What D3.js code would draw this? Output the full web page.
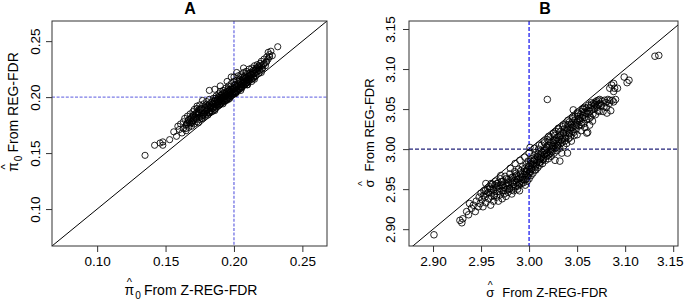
<!DOCTYPE html>
<html><head><meta charset="utf-8">
<script src="https://cdn.jsdelivr.net/npm/d3@7"></script>
<style>body{margin:0;background:#fff} text{font-family:"Liberation Sans",Arial,sans-serif}</style>
</head><body><svg id="c" width="685" height="301"></svg>
<script>
// Panel A: pi0 from Z-REG-FDR (x) vs from REG-FDR (y)
const panelA_points = [
[0.135,0.148],[0.142,0.157],[0.146,0.159],[0.148,0.160],[0.148,0.157],[0.153,0.162],[0.156,0.169],[0.158,0.165],[0.159,0.174],[0.165,0.172],[0.169,0.177],[0.174,0.177],[0.177,0.183],
[0.160,0.171],[0.161,0.176],[0.162,0.168],[0.163,0.178],[0.163,0.172],[0.164,0.181],[0.165,0.175],[0.165,0.170],[0.166,0.183],[0.166,0.177],[0.167,0.173],[0.167,0.180],[0.168,0.185],[0.168,0.176],[0.169,0.182],[0.169,0.174],
[0.170,0.187],[0.170,0.179],[0.170,0.183],[0.171,0.176],[0.171,0.189],[0.172,0.181],[0.172,0.185],[0.173,0.178],[0.173,0.190],[0.174,0.184],[0.174,0.187],[0.175,0.180],[0.175,0.193],[0.175,0.186],[0.176,0.183],[0.176,0.190],[0.177,0.188],[0.177,0.181],[0.178,0.194],[0.178,0.185],[0.179,0.191],[0.179,0.183],
[0.180,0.188],[0.180,0.196],[0.180,0.185],[0.181,0.192],[0.181,0.189],[0.182,0.186],[0.182,0.198],[0.182,0.194],[0.183,0.190],[0.183,0.188],[0.184,0.196],[0.184,0.192],[0.184,0.187],[0.185,0.199],[0.185,0.194],[0.185,0.190],[0.186,0.197],[0.186,0.192],[0.186,0.189],[0.187,0.201],[0.187,0.195],[0.187,0.191],[0.188,0.198],[0.188,0.194],[0.188,0.192],[0.189,0.203],[0.189,0.196],[0.189,0.193],
[0.190,0.200],[0.190,0.197],[0.190,0.194],[0.190,0.205],[0.191,0.199],[0.191,0.195],[0.191,0.202],[0.192,0.197],[0.192,0.206],[0.192,0.200],[0.193,0.203],[0.193,0.198],[0.193,0.196],[0.194,0.208],[0.194,0.201],[0.194,0.199],[0.195,0.205],[0.195,0.202],[0.195,0.198],[0.196,0.210],[0.196,0.204],[0.196,0.200],[0.197,0.207],[0.197,0.203],[0.197,0.199],[0.198,0.212],[0.198,0.205],[0.198,0.201],[0.199,0.209],[0.199,0.204],[0.199,0.202],
[0.200,0.214],[0.200,0.207],[0.200,0.203],[0.200,0.218],[0.201,0.211],[0.201,0.205],[0.201,0.203],[0.202,0.215],[0.202,0.209],[0.202,0.206],[0.203,0.219],[0.203,0.212],[0.203,0.207],[0.204,0.216],[0.204,0.210],[0.204,0.207],[0.205,0.220],[0.205,0.213],[0.205,0.209],[0.206,0.218],[0.206,0.212],[0.206,0.209],[0.207,0.222],[0.207,0.215],[0.207,0.211],[0.208,0.219],[0.208,0.214],[0.208,0.211],[0.209,0.223],[0.209,0.217],[0.209,0.213],
[0.210,0.221],[0.210,0.216],[0.210,0.213],[0.211,0.225],[0.211,0.219],[0.211,0.215],[0.212,0.222],[0.212,0.217],[0.213,0.226],[0.213,0.220],[0.213,0.216],[0.214,0.224],[0.214,0.218],[0.215,0.228],[0.215,0.221],[0.216,0.225],[0.216,0.219],[0.217,0.229],[0.217,0.223],[0.218,0.226],[0.218,0.221],[0.219,0.230],[0.219,0.224],
[0.220,0.228],[0.220,0.232],[0.221,0.226],[0.222,0.234],[0.222,0.230],[0.223,0.228],[0.224,0.236],[0.224,0.232],[0.225,0.240],[0.225,0.234],[0.226,0.238],[0.226,0.236],[0.227,0.241],[0.228,0.237],[0.232,0.245],
[0.173,0.192],[0.177,0.197],[0.182,0.206],[0.186,0.207],[0.190,0.210],[0.195,0.214],[0.198,0.218],[0.202,0.222],[0.207,0.226],
[0.205,0.206],[0.210,0.211],[0.213,0.214],[0.215,0.216],[0.220,0.222],[0.196,0.198],[0.192,0.194],[0.186,0.188],[0.181,0.184],
[0.1655,0.176],[0.1665,0.179],[0.1675,0.177],[0.1685,0.181],[0.1695,0.178],[0.1705,0.184],[0.1715,0.182],[0.1725,0.180],[0.1735,0.186],[0.1745,0.182],[0.1755,0.189],[0.1765,0.186],[0.1775,0.184],[0.1785,0.190],[0.1795,0.187],[0.1805,0.192],[0.1815,0.186],[0.1825,0.191],[0.1835,0.195],[0.1845,0.190],[0.1855,0.196],[0.1865,0.194],[0.1875,0.193],[0.1885,0.200],[0.1895,0.198],[0.1905,0.196],[0.1915,0.203],[0.1925,0.199],[0.1935,0.201],[0.1945,0.204],[0.1955,0.200],[0.1965,0.206],[0.1975,0.205],[0.1985,0.203],[0.1995,0.208],[0.2005,0.205],[0.2015,0.209],[0.2025,0.211],[0.2035,0.208],[0.2045,0.214],[0.2055,0.211],[0.2065,0.216],[0.2075,0.213],[0.2085,0.217],[0.2095,0.215],[0.2105,0.219],[0.2115,0.217],[0.2125,0.220],[0.2135,0.222],[0.2145,0.221],[0.2155,0.224],[0.2165,0.222],[0.2175,0.227],[0.2185,0.224],
[0.1705,0.180],[0.1725,0.186],[0.1745,0.189],[0.1765,0.181],[0.1785,0.186],[0.1805,0.189],[0.1825,0.187],[0.1845,0.194],[0.1865,0.199],[0.1885,0.195],[0.1905,0.202],[0.1925,0.204],[0.1945,0.197],[0.1965,0.202],[0.1985,0.207],[0.2005,0.211],[0.2025,0.205],[0.2045,0.209],[0.2065,0.213],[0.2085,0.212],[0.2105,0.214],[0.2125,0.218],[0.2145,0.217],[0.2165,0.226],[0.2185,0.228],[0.2205,0.225],[0.2215,0.229],[0.2235,0.231],
[0.1795,0.193],[0.1835,0.192],[0.1875,0.197],[0.1915,0.200],[0.1955,0.207],[0.1995,0.205],[0.2035,0.214],[0.2075,0.218],[0.2115,0.221],[0.1855,0.191],[0.1895,0.193],[0.1935,0.197],[0.1975,0.201],[0.2015,0.204],[0.2055,0.208],[0.2095,0.211]
];
// Panel B: sigma from Z-REG-FDR (x) vs from REG-FDR (y)
const panelB_points = [
[2.901,2.893],[2.928,2.911],[2.930,2.908],[2.931,2.913],[2.935,2.922],[2.938,2.932],[2.944,2.922],[2.947,2.928],[2.940,2.926],[2.942,2.930],[2.937,2.918],[2.945,2.935],
[2.948,2.940],[2.949,2.932],[2.950,2.945],[2.951,2.937],[2.952,2.928],[2.953,2.948],[2.954,2.940],[2.955,2.957],[2.955,2.933],[2.956,2.944],[2.957,2.950],[2.958,2.938],[2.959,2.953],
[2.960,2.946],[2.960,2.930],[2.961,2.941],[2.962,2.956],[2.963,2.949],[2.963,2.935],[2.964,2.944],[2.965,2.960],[2.966,2.952],[2.966,2.940],[2.967,2.947],[2.968,2.958],[2.968,2.935],[2.969,2.951],
[2.970,2.943],[2.970,2.963],[2.971,2.955],[2.972,2.938],[2.972,2.948],[2.973,2.960],[2.974,2.952],[2.974,2.944],[2.975,2.966],[2.976,2.957],[2.976,2.941],[2.977,2.950],[2.978,2.962],[2.978,2.946],[2.979,2.955],
[2.980,2.969],[2.980,2.951],[2.981,2.960],[2.982,2.949],[2.982,2.944],[2.983,2.965],[2.984,2.956],[2.984,2.948],[2.985,2.972],[2.985,2.961],[2.986,2.953],[2.987,2.967],[2.987,2.958],[2.988,2.950],[2.989,2.975],[2.989,2.963],
[2.990,2.956],[2.990,2.948],[2.991,2.969],[2.992,2.960],[2.992,2.957],[2.993,2.978],[2.993,2.965],[2.994,2.958],[2.995,2.972],[2.995,2.962],[2.996,2.970],[2.996,2.955],[2.997,2.981],[2.997,2.967],[2.998,2.960],[2.998,2.975],[2.999,2.985],[2.999,2.969],
[3.000,2.978],[3.000,2.963],[3.000,2.995],[3.001,3.002],[3.001,2.972],[3.002,2.982],[3.002,2.967],[3.003,2.988],[3.003,2.976],[3.004,2.970],[3.005,2.992],[3.005,2.980],[3.006,2.974],[3.006,2.986],[3.007,2.974],[3.007,2.996],[3.008,2.983],[3.009,2.990],[3.009,2.977],
[3.010,3.000],[3.010,2.986],[3.011,2.980],[3.012,2.994],[3.012,2.984],[3.013,3.005],[3.013,2.990],[3.014,2.982],[3.015,2.998],[3.015,2.988],[3.016,3.008],[3.016,2.993],[3.017,2.986],[3.018,3.002],[3.018,2.991],[3.019,3.012],[3.019,2.996],
[3.020,2.988],[3.020,3.005],[3.021,2.994],[3.022,3.015],[3.022,2.999],[3.023,2.991],[3.023,3.008],[3.024,2.997],[3.025,3.019],[3.025,3.003],[3.026,2.995],[3.026,3.011],[3.027,2.986],[3.027,3.001],[3.028,3.022],[3.028,3.007],[3.029,2.998],[3.029,3.014],
[3.030,3.004],[3.031,3.025],[3.031,3.010],[3.032,3.001],[3.032,2.985],[3.033,3.017],[3.033,3.007],[3.034,2.995],[3.035,3.028],[3.035,3.013],[3.036,3.004],[3.036,3.020],[3.037,3.010],[3.038,3.031],[3.038,3.016],[3.039,3.007],
[3.040,3.024],[3.040,2.995],[3.041,3.013],[3.042,3.034],[3.042,3.019],[3.043,3.015],[3.044,3.027],[3.044,3.010],[3.045,3.038],[3.045,3.022],[3.046,3.049],[3.047,3.030],[3.047,3.017],[3.048,3.041],[3.049,3.025],
[3.050,3.034],[3.050,3.018],[3.051,3.044],[3.052,3.029],[3.053,3.038],[3.054,3.023],[3.055,3.047],[3.055,3.033],[3.056,3.042],[3.057,3.032],[3.058,3.052],[3.058,3.027],[3.059,3.045],
[3.060,3.020],[3.060,3.037],[3.061,3.021],[3.062,3.055],[3.063,3.047],[3.063,3.030],[3.064,3.040],[3.065,3.058],[3.066,3.035],[3.067,3.057],[3.068,3.050],[3.069,3.043],
[3.070,3.060],[3.071,3.054],[3.072,3.061],[3.073,3.047],[3.074,3.057],[3.076,3.060],[3.077,3.047],[3.078,3.053],[3.080,3.058],[3.081,3.045],[3.082,3.062],[3.084,3.061],[3.085,3.048],
[3.086,3.080],[3.088,3.059],[3.088,3.082],[3.084,3.076],[3.089,3.076],[3.088,3.072],[3.092,3.076],[3.090,3.062],[3.099,3.090],[3.102,3.083],[3.104,3.086],[3.131,3.116],[3.135,3.117],[3.019,3.062],
[2.9525,2.942],[2.9575,2.946],[2.9615,2.950],[2.9645,2.955],[2.9675,2.954],[2.9715,2.959],[2.9735,2.948],[2.9755,2.954],[2.9785,2.958],[2.9815,2.964],[2.9835,2.953],[2.9855,2.966],[2.9875,2.962],[2.9895,2.958],[2.9915,2.973],[2.9935,2.962],[2.9955,2.976],[2.9975,2.972],[2.9995,2.979],[3.0015,2.985],[3.0035,2.981],[3.0055,2.987],[3.0075,2.980],[3.0095,2.994],[3.0115,2.988],[3.0135,2.996],[3.0155,2.993],[3.0175,3.000],[3.0195,2.992],[3.0215,3.004],[3.0235,3.000],[3.0255,3.008],[3.0275,3.011],[3.0295,3.005],[3.0315,3.016],[3.0335,3.012],[3.0355,3.020],[3.0375,3.014],[3.0395,3.026],[3.0415,3.020],[3.0435,3.031],[3.0455,3.027],[3.0475,3.036],[3.0495,3.031],[3.0515,3.038],[3.0535,3.043],[3.0555,3.039],[3.0575,3.046],[3.0595,3.051],[3.0615,3.044],[3.0635,3.052],[3.0655,3.049],[3.0675,3.054],[3.0695,3.058],[3.0715,3.048],[3.0735,3.062],[3.0755,3.055],[3.0785,3.061],[3.0805,3.052],[3.0835,3.057],[3.0865,3.061],
[2.9545,2.948],[2.9595,2.951],[2.9635,2.942],[2.9665,2.957],[2.9695,2.947],[2.9725,2.955],[2.9765,2.963],[2.9795,2.950],[2.9825,2.958],[2.9865,2.970],[2.9885,2.954],[2.9905,2.964],[2.9945,2.968],[2.9965,2.962],[2.9985,2.966],[3.0005,2.970],[3.0025,2.975],[3.0045,2.985],[3.0065,2.978],[3.0085,2.991],[3.0105,2.983],[3.0125,2.990],[3.0145,2.987],[3.0165,2.998],[3.0185,2.995],[3.0205,3.010],[3.0225,2.995],[3.0245,3.005],[3.0265,3.017],[3.0285,3.002],[3.0305,3.012],[3.0325,3.022],[3.0345,3.009],[3.0365,3.025],[3.0385,3.021],[3.0405,3.030],[3.0425,3.024],[3.0445,3.033],[3.0465,3.021],[3.0485,3.029],[3.0505,3.041],[3.0525,3.035],[3.0545,3.030],[3.0565,3.050],[3.0585,3.040],[3.0605,3.048],[3.0625,3.038],[3.0645,3.055],[3.0665,3.044],[3.0685,3.056],[3.0705,3.052],[3.0725,3.056],
[2.9605,2.957],[2.9705,2.967],[2.9805,2.976],[2.9905,2.986],[3.0055,3.001],[3.0155,3.010],[3.0255,3.020],[3.0355,3.030],[3.0455,3.040],[3.0555,3.050],[2.9855,2.982],[2.9955,2.990],[3.0105,3.005],[3.0205,3.016],[3.0305,3.026],[3.0405,3.036],[3.0505,3.046]
];
const panelA_ticks = [0.10, 0.15, 0.20, 0.25];
const panelB_ticks = [2.90, 2.95, 3.00, 3.05, 3.10, 3.15];
const panelA_ref = 0.20;
const panelB_ref = 3.00;

const svg = d3.select("#c");
const W = 685;

function mathLabel(parent, sym, sub, rest, fs, gap) {
  const g = parent.append("g");
  const t = g.append("text").attr("font-size", fs).attr("fill", "#000");
  const s = t.append("tspan").text(sym);
  if (sub) t.append("tspan").attr("font-size", fs * 0.72).attr("dy", fs * 0.3).attr("dx", 1).text(sub);
  t.append("tspan").attr("dy", sub ? -fs * 0.3 : 0).attr("dx", gap).text(rest);
  const symW = s.node().getComputedTextLength();
  const total = t.node().getBBox().width;
  t.attr("x", -total / 2);
  g.append("text").attr("font-size", fs * 0.8).attr("text-anchor", "middle")
    .attr("x", -total / 2 + symW / 2).attr("y", -fs * 0.62).text("^");
  return g;
}

function panel(cfg) {
  const x = d3.scaleLinear().domain(cfg.dx).range([cfg.left, cfg.right]);
  const y = d3.scaleLinear().domain(cfg.dy).range([cfg.bottom, cfg.top]);
  const g = svg.append("g");
  g.append("clipPath").attr("id", cfg.id).append("rect")
    .attr("x", cfg.left).attr("y", cfg.top).attr("width", cfg.right - cfg.left).attr("height", cfg.bottom - cfg.top);
  const inner = g.append("g").attr("clip-path", `url(#${cfg.id})`);
  inner.append("line").attr("x1", cfg.left).attr("x2", cfg.right)
    .attr("y1", y(cfg.ref)).attr("y2", y(cfg.ref))
    .attr("stroke", cfg.hColor).attr("stroke-width", 1.4).attr("stroke-dasharray", cfg.dash);
  inner.append("line").attr("y1", cfg.top).attr("y2", cfg.bottom)
    .attr("x1", x(cfg.ref)).attr("x2", x(cfg.ref))
    .attr("stroke", cfg.vColor).attr("stroke-width", 1.4).attr("stroke-dasharray", cfg.dash);
  const lo = Math.min(cfg.dx[0], cfg.dy[0]) - 1, hi = Math.max(cfg.dx[1], cfg.dy[1]) + 1;
  inner.append("line").attr("x1", x(lo)).attr("y1", y(lo)).attr("x2", x(hi)).attr("y2", y(hi))
    .attr("stroke", "#000").attr("stroke-width", 1);
  inner.selectAll("circle").data(cfg.data).join("circle")
    .attr("cx", d => x(d[0])).attr("cy", d => y(d[1])).attr("r", cfg.r)
    .attr("fill", "none").attr("stroke", "#000").attr("stroke-width", 0.85);
  g.append("rect").attr("x", cfg.left).attr("y", cfg.top)
    .attr("width", cfg.right - cfg.left).attr("height", cfg.bottom - cfg.top)
    .attr("fill", "none").attr("stroke", "#333").attr("stroke-width", 1);
  const fmt = d3.format(".2f");
  const ax = g.append("g").attr("transform", `translate(0,${cfg.bottom})`)
    .call(d3.axisBottom(x).tickValues(cfg.ticks).tickSize(6).tickPadding(4).tickFormat(fmt));
  ax.select(".domain").remove();
  ax.selectAll("text").attr("font-size", cfg.tfs).attr("font-family", "Liberation Sans, Arial, sans-serif").attr("fill", "#000");
  ax.selectAll("line").attr("stroke", "#333");
  // keep tick labels inside the page edge
  ax.selectAll(".tick").each(function(d) {
    const txt = d3.select(this).select("text");
    const w = txt.node().getComputedTextLength();
    const over = x(d) + w / 2 - (W - 2);
    if (over > 0) txt.attr("x", -over);
  });
  const ay = g.append("g").attr("transform", `translate(${cfg.left},0)`)
    .call(d3.axisLeft(y).tickValues(cfg.ticks).tickSize(6).tickFormat(fmt));
  ay.select(".domain").remove();
  ay.selectAll("line").attr("stroke", "#333");
  ay.selectAll("text").attr("font-size", cfg.tfs).attr("font-family", "Liberation Sans, Arial, sans-serif").attr("fill", "#000")
    .attr("transform", "rotate(-90)").attr("x", 0).attr("y", -cfg.ytOff).attr("dy", 0)
    .attr("text-anchor", "middle");
  g.append("text").attr("x", cfg.titleX).attr("y", 14).attr("text-anchor", "middle")
    .attr("font-weight", "bold").attr("font-size", 16).text(cfg.title);
  const xl = mathLabel(g, cfg.sym, cfg.sub, cfg.xText, cfg.lfs, cfg.gap);
  xl.attr("transform", `translate(${cfg.xlX},${cfg.xlY})`);
  const yl = mathLabel(g, cfg.sym, cfg.sub, cfg.yText, cfg.lfs, cfg.gap);
  yl.attr("transform", `translate(${cfg.ylX},${cfg.ylY}) rotate(-90)`);
}

panel({
  id: "clipA", data: panelA_points, dx: [0.067, 0.268], dy: [0.067, 0.268],
  left: 52, right: 327, top: 21, bottom: 246, ticks: panelA_ticks, ref: panelA_ref,
  hColor: "#7c7ce6", vColor: "#7c7ce6", dash: "3,1.6", r: 3.1, tfs: 13.5, ytOff: 12,
  title: "A", titleX: 190, sym: "π", sub: "0", gap: 3,
  xText: "From Z-REG-FDR", yText: "From REG-FDR", lfs: 14,
  xlX: 191, xlY: 295, ylX: 18, ylY: 112
});
panel({
  id: "clipB", data: panelB_points, dx: [2.875, 3.155], dy: [2.879, 3.160],
  left: 409, right: 678, top: 21, bottom: 246, ticks: panelB_ticks, ref: panelB_ref,
  hColor: "#22227a", vColor: "#3030f0", dash: "4,2", r: 3.3, tfs: 13.6, ytOff: 14,
  title: "B", titleX: 545, sym: "σ", sub: null, gap: 8,
  xText: "From Z-REG-FDR", yText: "From REG-FDR", lfs: 13,
  xlX: 547, xlY: 297, ylX: 374, ylY: 133
});
</script></body></html>
